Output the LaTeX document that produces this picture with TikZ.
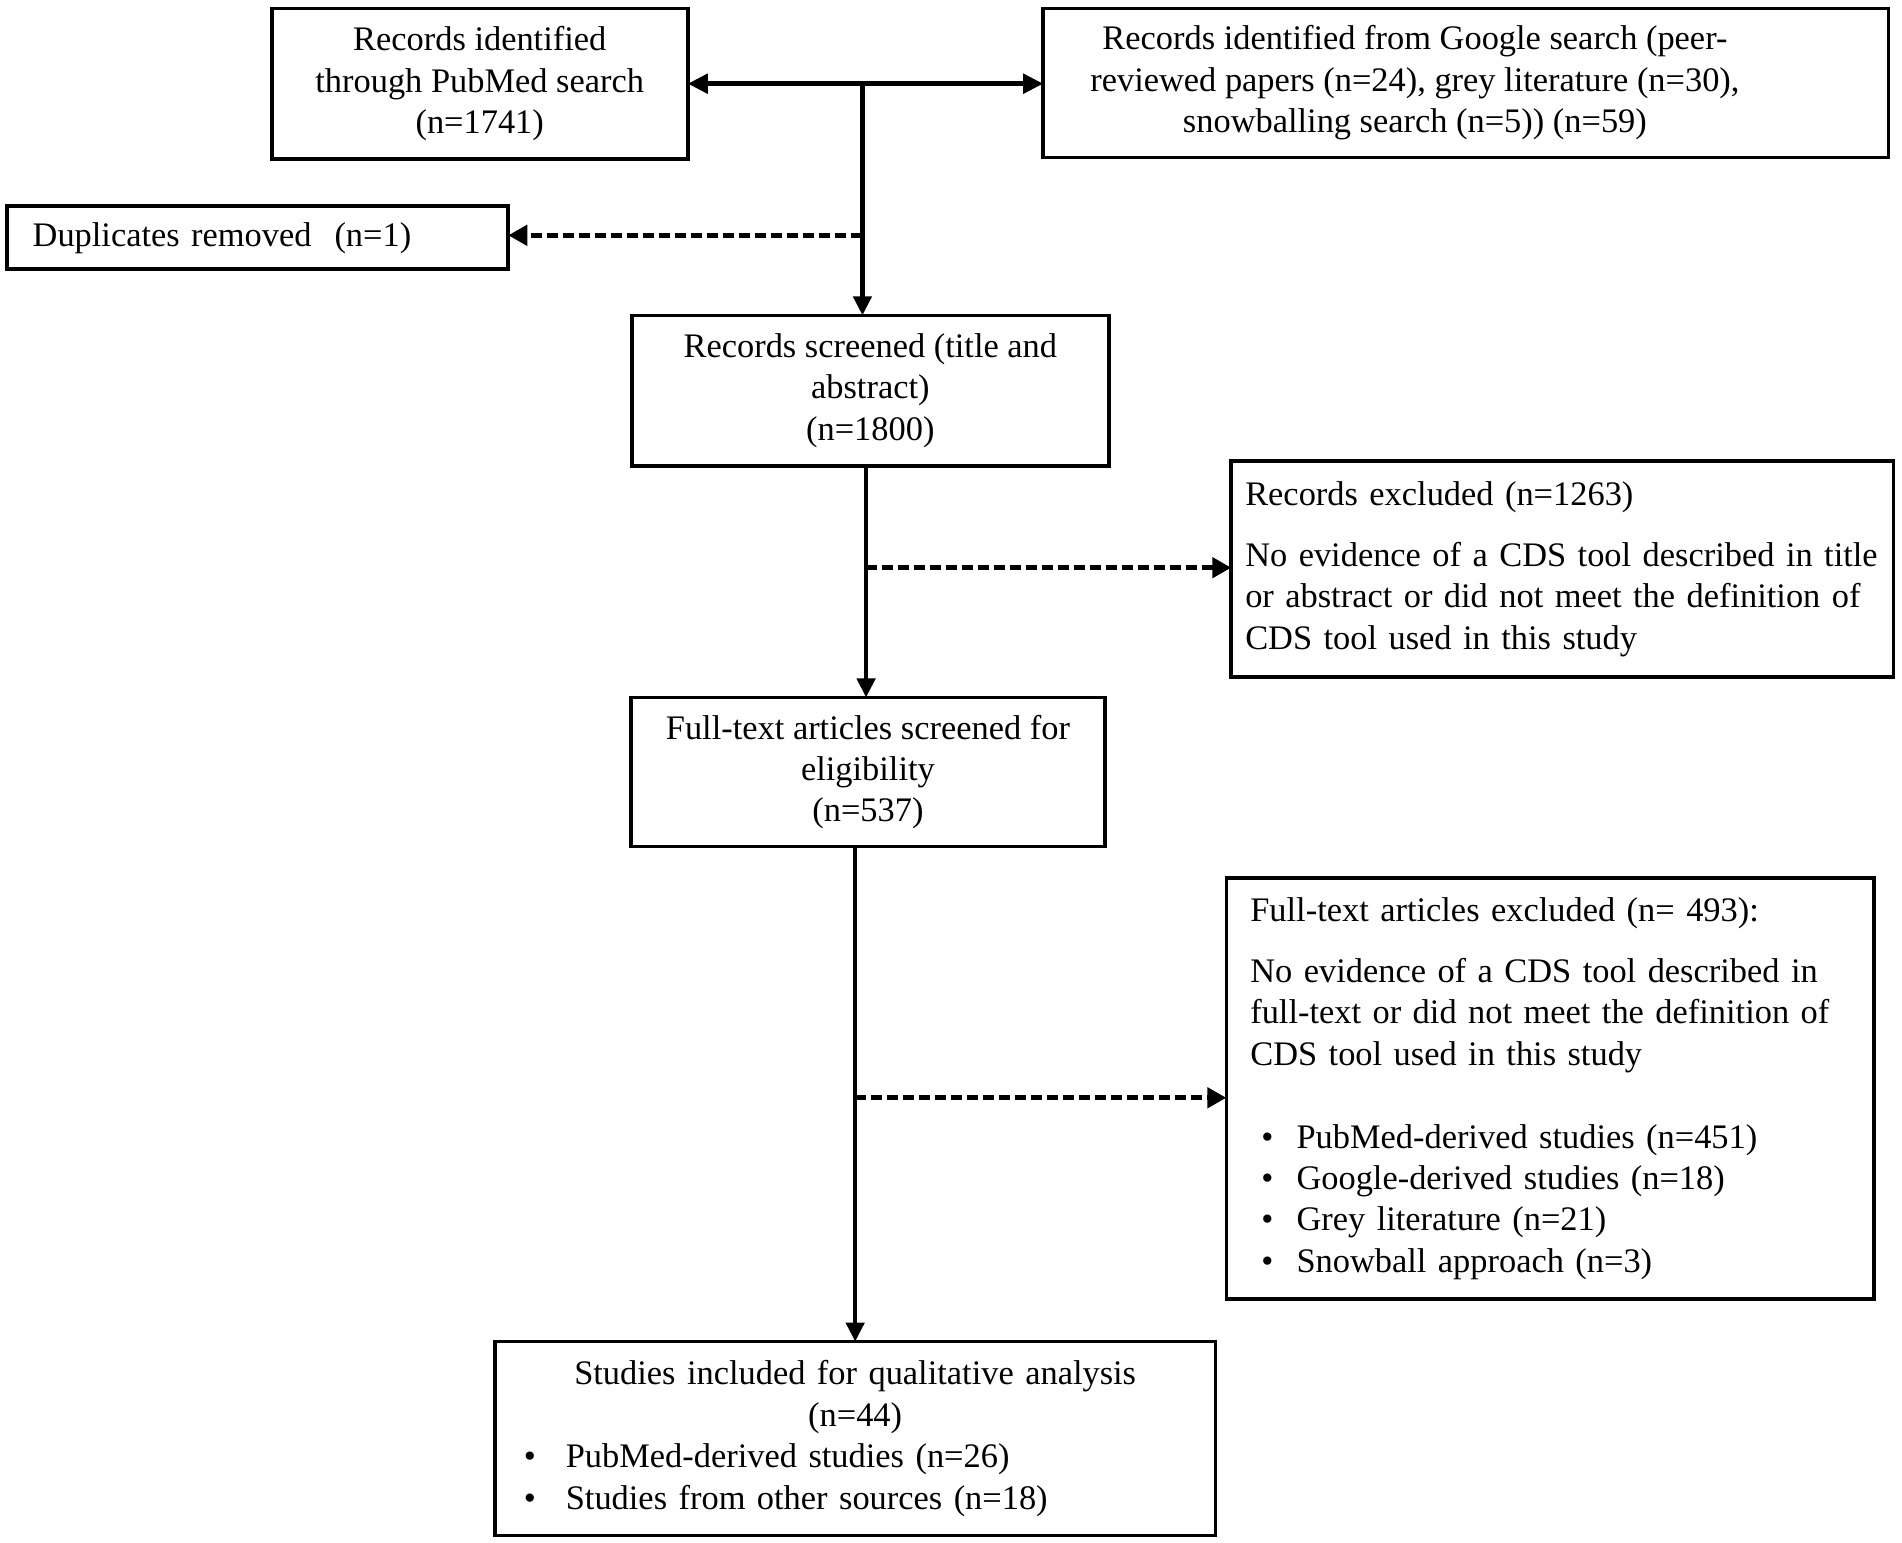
\documentclass[tikz,border=0pt]{standalone}
\usepackage{fontspec}
\setmainfont{Liberation Serif}
\usetikzlibrary{positioning,calc,arrows.meta}

\newcommand{\dotrow}[2]{\makebox[#1][l]{\textbullet}#2}

\begin{document}
\begin{tikzpicture}[x=0.6065pt,y=-0.6065pt,
				font=\fontsize{17.2pt}{20.7pt}\selectfont,
				block/.style={draw,rectangle,line width=1.8pt,outer sep=0pt,inner sep=0pt,align=center},
				textblock/.style={block,align=left},
				flow/.style={line width=2.2pt,-{Triangle[length=9.5pt,width=9pt]}},
				both/.style={line width=2.8pt,{Triangle[length=10pt,width=9.5pt]}-{Triangle[length=10pt,width=9.5pt]}},
				dashflow/.style={line width=2.5pt,dash pattern=on 5.5pt off 2.5pt,-{Triangle[length=9.5pt,width=10pt]}}]
				\useasboundingbox (0,0) rectangle (1568,1272);
				\node (pubmed)   [block,minimum width=208pt,minimum height=75.2pt]   at (395.5,69)   {Records identified\\through PubMed search\\(n=1741)};
				\node (google)   [block,minimum width=422.7pt,minimum height=74.6pt] at (1208.5,68.5) {\hspace*{-51pt}\begin{tabular}{@{}c@{}}Records identified from Google search (peer-\\reviewed papers (n=24), grey literature (n=30),\\snowballing search (n=5)) (n=59)\end{tabular}};
				\node (dupl)     [textblock,minimum height=31.5pt,inner xsep=12.7pt,text width=225.1pt] at (212.5,196) {Duplicates removed\ \ (n=1)};
				\node (screen)   [block,minimum width=238.4pt,minimum height=75.2pt] at (717.5,322)  {Records screened (title and\\abstract)\\(n=1800)};
				\node (recexcl)  [textblock,minimum height=108pt,inner xsep=7pt,text width=317.1pt] at (1288,469) {Records excluded (n=1263)\\[10pt]No evidence of a CDS tool described in title\\or abstract or did not meet the definition of\\CDS tool used in this study};
				\node (fulltext) [block,minimum width=237.1pt,minimum height=74.6pt] at (715.5,636.5) {Full-text articles screened for\\eligibility\\(n=537)};
				\node (ftexcl)   [textblock,minimum height=210.5pt,inner xsep=12pt,text width=299.9pt] at (1278,897.5) {Full-text articles excluded (n= 493):\\[9.7pt]No evidence of a CDS tool described in\\full-text or did not meet the definition of\\CDS tool used in this study\\[20.7pt]
					\hspace*{5.5pt}\dotrow{17.6pt}{PubMed-derived studies (n=451)}\\
					\hspace*{5.5pt}\dotrow{17.6pt}{Google-derived studies (n=18)}\\
					\hspace*{5.5pt}\dotrow{17.6pt}{Grey literature (n=21)}\\
					\hspace*{5.5pt}\dotrow{17.6pt}{Snowball approach (n=3)}};
				\node (incl)     [block,minimum height=97pt,inner xsep=14.5pt,text width=331.3pt] at (705,1186) {Studies included for qualitative analysis\\(n=44)\\
					\makebox[\linewidth][l]{\dotrow{21pt}{PubMed-derived studies (n=26)}}\\
					\makebox[\linewidth][l]{\dotrow{21pt}{Studies from other sources (n=18)}}};
				
				\coordinate (split) at (711,69);
				\coordinate (dup)   at (711,194);
				\coordinate (tee2)  at (714,468);
				\coordinate (tee3)  at (705,905);
				
				\draw[both]     (pubmed.east) -- (pubmed.east -| google.west);
				\draw[flow]     (split) -- (split |- screen.north);
				\draw[dashflow] (dup) -- (dup -| dupl.east);
				\draw[flow]     (screen.south -| tee2) -- (fulltext.north -| tee2);
				\draw[dashflow] (tee2) -- (tee2 -| recexcl.west);
				\draw[flow]     (fulltext.south -| tee3) -- (incl.north -| tee3);
				\draw[dashflow] (tee3) -- (tee3 -| ftexcl.west);
			\end{tikzpicture}
\end{document}
